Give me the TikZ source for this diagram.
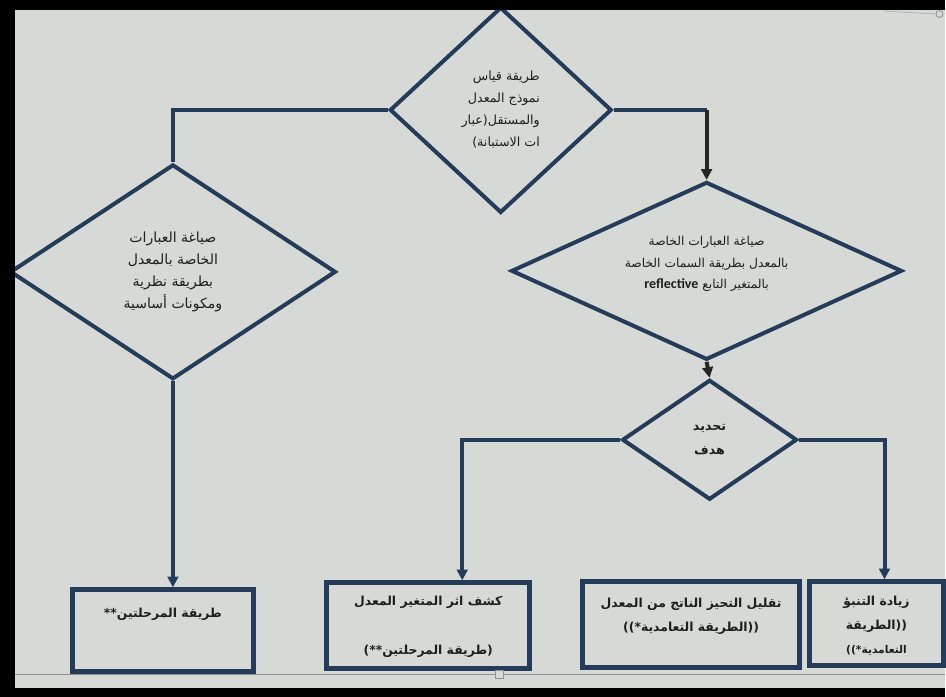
\documentclass[tikz,border=0pt]{standalone}
\usepackage{fontspec}
\usetikzlibrary{shapes.geometric,arrows.meta,calc}
\TeXXeTstate=1
\newfontfamily\arabicfont[Script=Arabic]{DejaVu Sans}
\newfontfamily\latinfont{Carlito}
\newcommand{\ar}[1]{{\arabicfont\beginR #1\endR}}
\definecolor{navy}{RGB}{36,60,90}
\definecolor{paper}{RGB}{214,217,214}
\definecolor{rule}{RGB}{140,146,146}
\definecolor{ink}{RGB}{30,30,30}

\begin{document}
\begin{tikzpicture}[x=0.75pt,y=-0.75pt,
  dia/.style={diamond, draw=navy, line width=3pt, inner sep=0pt, align=center, text=ink,
    font=\fontsize{9.5}{16.5}\selectfont},
  diatext/.style={inner sep=0pt, align=center, text=ink},
  box/.style={rectangle, draw=navy, line width=3.6pt, inner sep=0pt},
  boxtext/.style={inner sep=0pt, align=center, text=ink, font=\fontsize{9.3}{18}\selectfont\bfseries},
  link/.style={draw=navy, line width=3pt},
  darklink/.style={draw=black!85, line width=3pt},
  arr/.style={-{Triangle[length=8pt,width=8pt]}}
]
% screen background
\fill[paper] (0,0) rectangle (946,697);

% decision shapes
\node[dia, align=right, minimum width=166.5pt, minimum height=154.5pt] (top) at (501,110)
  {\ar{طريقة قياس}\\ \ar{نموذج المعدل}\\ \ar{والمستقل(عبار}\\ \ar{ات الاستبانة)}};
\node[dia, font=\fontsize{10.5}{16.5}\selectfont, minimum width=244.5pt, minimum height=161.25pt] (left) at (173,272)
  {\ar{صياغة العبارات}\\ \ar{الخاصة بالمعدل}\\ \ar{بطريقة نظرية}\\ \ar{ومكونات أساسية}};
\node[dia, shape aspect=2.2, minimum width=293.25pt, minimum height=133.5pt] (rdia) at (707,271) {};
\node[diatext, font=\fontsize{9.2}{16}\selectfont] (rdiatext) at ($(rdia.center)+(0,-7)$)
  {\ar{صياغة العبارات الخاصة}\\ \ar{بالمعدل بطريقة السمات الخاصة}\\
   \ar{بالمتغير التابع \beginL{\latinfont\bfseries\fontsize{10.5}{16}\selectfont reflective}\endL}};
\node[dia, font=\fontsize{9.5}{18}\selectfont\bfseries, minimum width=131.25pt, minimum height=90pt] (goal) at (710,440)
  {\ar{تحديد}\\ \ar{هدف}};

% result boxes
\node[box, minimum width=135.75pt, minimum height=61.5pt] (box1) at (163,631) {};
\node[box, minimum width=152.25pt, minimum height=64.5pt] (box2) at (428.5,626) {};
\node[box, minimum width=162.75pt, minimum height=64.5pt] (box3) at (691.5,625) {};
\node[box, minimum width=100.5pt, minimum height=63pt] (box4) at (877,624) {};

\node[boxtext] at ($(box1.north)+(0,27)$) {\ar{طريقة المرحلتين**}};
\node[boxtext] at ($(box2.north)+(0,22)$) {\ar{كشف اثر المتغير المعدل}};
\node[boxtext] at ($(box2.north)+(0,71)$) {\ar{(طريقة المرحلتين**)}};
\node[boxtext] at ($(box3.north)+(0,37)$) {\ar{تقليل التحيز الناتج من المعدل}\\ \ar{((الطريقة التعامدية*))}};
\node[boxtext] at ($(box4.north)+(0,46)$)
  {\ar{زيادة التنبؤ}\\ \ar{((الطريقة}\\ {\fontsize{8}{10}\selectfont\ar{التعامدية*))}}};

% connectors
\draw[link] (top.west) -| (left.north);
\draw[link] (top.east) -- (top.east -| rdia.north);
\draw[darklink, arr] (top.east -| rdia.north) -- (rdia.north);
\draw[link, arr] (left.south) -- (left.south |- box1.north);
\draw[darklink, arr] (rdia.south) -- (goal.north);
\draw[link, arr] (goal.west) -| ($(box2.north)+(34,0)$);
\draw[link, arr] (goal.east) -| ($(box4.north)+(8,0)$);

% slide edge and handles
\draw[rule, line width=0.8pt] (15,675) -- (946,675);
\draw[rule, line width=0.8pt, fill=paper] (496,671) rectangle (504,679);
\draw[rule!70, line width=0.6pt] (885,11) -- (936,14);
\draw[rule, line width=0.6pt, fill=paper] (940,14) circle (3.5);

% monitor frame
\fill[black] (0,0) rectangle (946,10);
\fill[black] (0,0) rectangle (15,697);
\fill[black] (0,688) rectangle (946,697);
\end{tikzpicture}
\end{document}
